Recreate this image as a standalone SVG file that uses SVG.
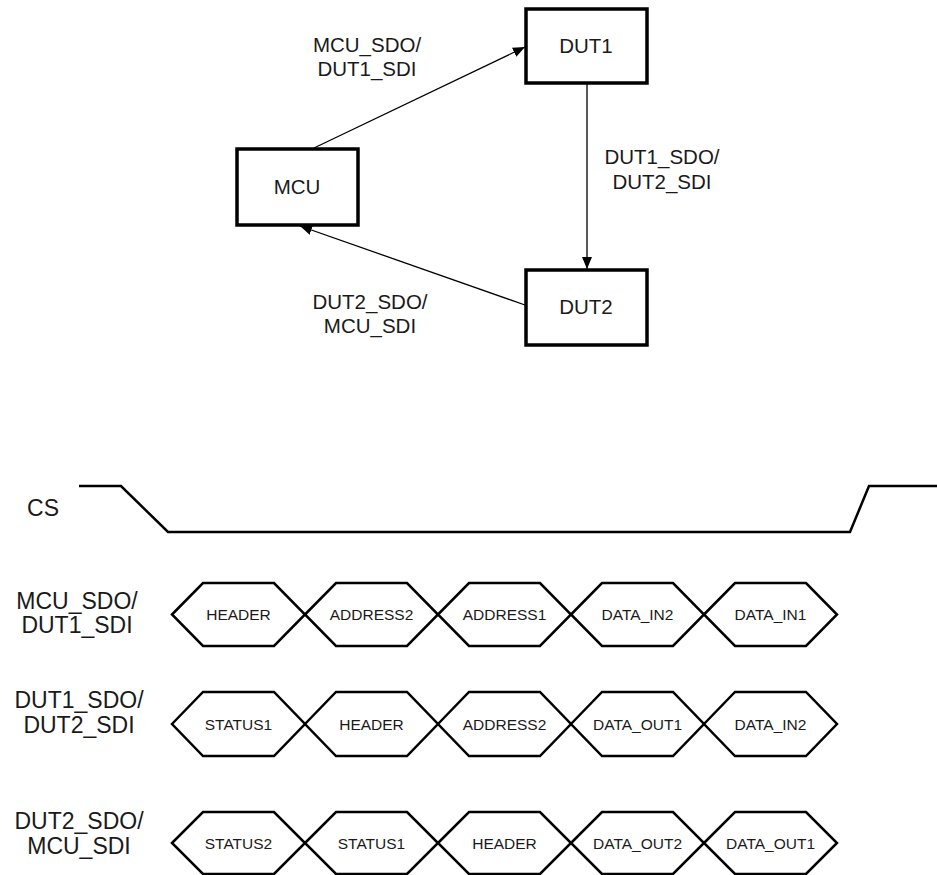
<svg xmlns="http://www.w3.org/2000/svg" width="937" height="875" viewBox="0 0 937 875">
<defs>
<marker id="arr" viewBox="0 0 12 10" refX="12" refY="5" markerWidth="12" markerHeight="10" markerUnits="userSpaceOnUse" orient="auto">
<path d="M0,0 L12,5 L0,10 Z" fill="#000"/>
</marker>
</defs>
<style>
.box{fill:#fff;stroke:#000;stroke-width:3.5}
.t{font-family:"Liberation Sans",Arial,sans-serif;fill:#1a1a1a;text-anchor:middle}
.big{font-size:20.5px}
.lab{font-size:23px}
.hx{font-size:15.5px}
.conn{fill:none;stroke:#000;stroke-width:1.3}
.wave{fill:none;stroke:#000;stroke-width:2.5;stroke-linejoin:miter}
</style>
<rect width="937" height="875" fill="#fff"/>
<g id="connectors">
<line class="conn" x1="314" y1="148" x2="525" y2="47" marker-end="url(#arr)"/>
<line class="conn" x1="587" y1="83" x2="587" y2="269" marker-end="url(#arr)"/>
<line class="conn" x1="525" y1="305" x2="300" y2="226" marker-end="url(#arr)"/>
<text class="t big" x="367" y="52">MCU_SDO/</text>
<text class="t big" x="367" y="76">DUT1_SDI</text>
<text class="t big" x="662" y="164">DUT1_SDO/</text>
<text class="t big" x="662" y="189">DUT2_SDI</text>
<text class="t big" x="370" y="309">DUT2_SDO/</text>
<text class="t big" x="370" y="333">MCU_SDI</text>
</g>
<g id="DUT1">
<rect class="box" x="526" y="9" width="121" height="74"/>
<text class="t big" x="586" y="53">DUT1</text>
</g>
<g id="MCU">
<rect class="box" x="237" y="149" width="121" height="76"/>
<text class="t big" x="297" y="194">MCU</text>
</g>
<g id="DUT2">
<rect class="box" x="526" y="270" width="121" height="75"/>
<text class="t big" x="586" y="314">DUT2</text>
</g>
<g id="timing">
<text class="t lab" x="43" y="516">CS</text>
<polyline class="wave" points="79,486 121,486 168,532 850,532 869,486 937,486"/>
<g id="row1">
<text class="t lab" x="77" y="609">MCU_SDO/</text>
<text class="t lab" x="77" y="633">DUT1_SDI</text>
<polygon class="wave" points="172,614.5 203,583 274,583 305,614.5 274,646 203,646"/>
<polygon class="wave" points="305,614.5 336,583 407,583 438,614.5 407,646 336,646"/>
<polygon class="wave" points="438,614.5 469,583 540,583 571,614.5 540,646 469,646"/>
<polygon class="wave" points="571,614.5 602,583 673,583 704,614.5 673,646 602,646"/>
<polygon class="wave" points="704,614.5 735,583 806,583 837,614.5 806,646 735,646"/>
<text class="t hx" x="238.5" y="620">HEADER</text>
<text class="t hx" x="371.5" y="620">ADDRESS2</text>
<text class="t hx" x="504.5" y="620">ADDRESS1</text>
<text class="t hx" x="637.5" y="620">DATA_IN2</text>
<text class="t hx" x="770.5" y="620">DATA_IN1</text>
</g>
<g id="row2">
<text class="t lab" x="79" y="708">DUT1_SDO/</text>
<text class="t lab" x="79" y="733">DUT2_SDI</text>
<polygon class="wave" points="172,724 203,692 274,692 305,724 274,756 203,756"/>
<polygon class="wave" points="305,724 336,692 407,692 438,724 407,756 336,756"/>
<polygon class="wave" points="438,724 469,692 540,692 571,724 540,756 469,756"/>
<polygon class="wave" points="571,724 602,692 673,692 704,724 673,756 602,756"/>
<polygon class="wave" points="704,724 735,692 806,692 837,724 806,756 735,756"/>
<text class="t hx" x="238.5" y="729.5">STATUS1</text>
<text class="t hx" x="371.5" y="729.5">HEADER</text>
<text class="t hx" x="504.5" y="729.5">ADDRESS2</text>
<text class="t hx" x="637.5" y="729.5">DATA_OUT1</text>
<text class="t hx" x="770.5" y="729.5">DATA_IN2</text>
</g>
<g id="row3">
<text class="t lab" x="79" y="829">DUT2_SDO/</text>
<text class="t lab" x="79" y="854">MCU_SDI</text>
<polygon class="wave" points="172,843 203,812 274,812 305,843 274,874 203,874"/>
<polygon class="wave" points="305,843 336,812 407,812 438,843 407,874 336,874"/>
<polygon class="wave" points="438,843 469,812 540,812 571,843 540,874 469,874"/>
<polygon class="wave" points="571,843 602,812 673,812 704,843 673,874 602,874"/>
<polygon class="wave" points="704,843 735,812 806,812 837,843 806,874 735,874"/>
<text class="t hx" x="238.5" y="848.5">STATUS2</text>
<text class="t hx" x="371.5" y="848.5">STATUS1</text>
<text class="t hx" x="504.5" y="848.5">HEADER</text>
<text class="t hx" x="637.5" y="848.5">DATA_OUT2</text>
<text class="t hx" x="770.5" y="848.5">DATA_OUT1</text>
</g>
</g>
</svg>
